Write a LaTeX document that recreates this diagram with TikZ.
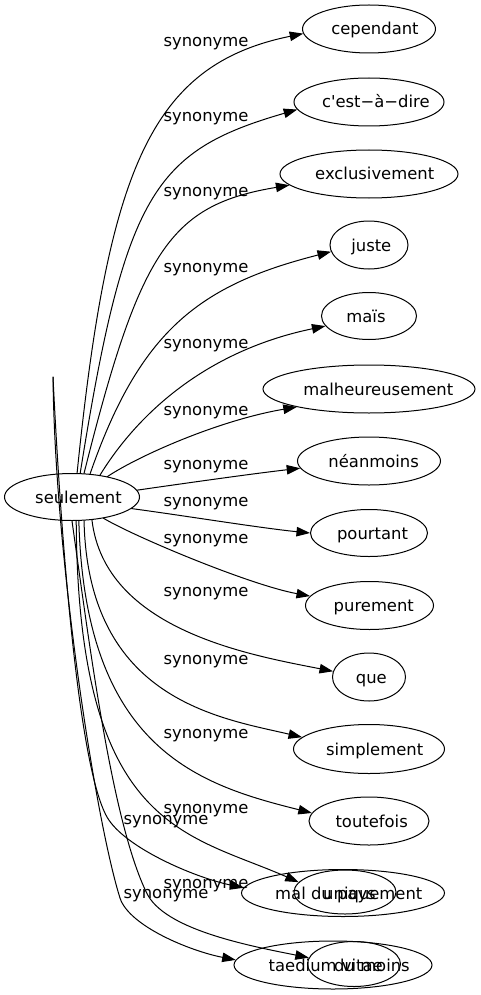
\documentclass[tikz,border=0pt]{standalone}
\usepackage{fontspec}
\setmainfont{DejaVu Sans}
\usetikzlibrary{shapes.geometric,arrows.meta}

\begin{document}
\begin{tikzpicture}
		[x=1pt,y=-1pt,line cap=round,
		%Styles
		word/.style={draw,ellipse,line width=1pt,inner sep=0pt,minimum height=48pt},
		word text/.style={font=\fontsize{16.4}{19}\selectfont,inner sep=0pt,text height=12pt,text depth=0pt},
		rel/.style={line width=1pt,-{Triangle[length=13.5pt,width=9.5pt]}},
		rel label/.style={font=\fontsize{16.4}{19}\selectfont,inner sep=0pt}
		]
		
		\useasboundingbox (0,0) rectangle (480,995);
		
		%The words
		\node[word,minimum width=135pt,minimum height=47pt] (seul) at (72,497) {};
		\node[word text] (seul-t) at (78.5,497) {seulement};
		
		\node[word,minimum width=133pt] (cep) at (369,29) {};
		\node[word text] (cep-t) at (375,29) {cependant};
		\node[word,minimum width=150pt] (cad) at (369,102) {};
		\node[word text] (cad-t) at (375.8,102) {c\textquotesingle est−à−dire};
		\node[word,minimum width=178pt] (excl) at (369,174) {};
		\node[word text] (excl-t) at (374.7,174) {exclusivement};
		\node[word,minimum width=78pt] (juste) at (369,245) {};
		\node[word text] (juste-t) at (371.3,245) {juste};
		\node[word,minimum width=95pt,minimum height=47pt] (mais) at (369,316) {};
		\node[word text] (mais-t) at (366,316) {maïs};
		\node[word,minimum width=212pt] (malh) at (369,389) {};
		\node[word text] (malh-t) at (378.3,389) {malheureusement};
		\node[word,minimum width=143pt] (nean) at (369,461) {};
		\node[word text] (nean-t) at (373.7,461) {néanmoins};
		\node[word,minimum width=117pt,minimum height=47pt] (pour) at (369,533) {};
		\node[word text] (pour-t) at (372.5,533) {pourtant};
		\node[word,minimum width=128pt] (pure) at (369.5,605.5) {};
		\node[word text] (pure-t) at (373.8,605.5) {purement};
		\node[word,minimum width=73pt] (que) at (369,677) {};
		\node[word text] (que-t) at (371.3,677) {que};
		\node[word,minimum width=151pt,minimum height=49pt] (simp) at (369,749) {};
		\node[word text] (simp-t) at (374.7,749) {simplement};
		\node[word,minimum width=120pt] (tout) at (369,821) {};
		\node[word text] (tout-t) at (371.7,821) {toutefois};
		
		\node[word,minimum width=203pt,minimum height=47pt] (uniq) at (343,893) {};
		\node[word,minimum width=102pt,minimum height=44pt] (mal) at (345,892) {};
		\node[word text] (mal-t) at (325.5,893) {mal du pays};
		\node[word text] (uniq-t) at (372.8,893) {uniquement};
		\node[word,minimum width=198pt] (taed) at (333,965) {};
		\node[word,minimum width=93pt,minimum height=45pt] (dumo) at (354,964) {};
		\node[word text] (taed-t) at (325.7,965) {taedium vitae};
		\node[word text] (dumo-t) at (372,965) {du moins};
		
		%The links
		\coordinate (src) at (53,377);
		
		\draw[rel] (seul.78) .. controls (108,170) and (150,65) .. (cep.184);
		\draw[rel] (seul.71) .. controls (125,193) and (154,151) .. (cad.186);
		\draw[rel] (seul.63) .. controls (140,250) and (170,205) .. (excl.188);
		\draw[rel] (seul.52) .. controls (140,330) and (200,285) .. (juste.190);
		\draw[rel] (seul.38) .. controls (140,410) and (210,350) .. (mais.193);
		\draw[rel] (seul.30) .. controls (140,455) and (220,420) .. (malh.194);
		\draw[rel] (seul.6) .. controls (180,484) and (250,474) .. (nean.186);
		\draw[rel] (seul.349) .. controls (180,515) and (260,528) .. (pour.180);
		\draw[rel] (seul.326) .. controls (135,537) and (250,585) .. (pure.171);
		\draw[rel] (seul.311) .. controls (105,630) and (250,655) .. (que.171);
		\draw[rel] (seul.297) .. controls (88,700) and (220,718) .. (simp.170);
		\draw[rel] (seul.286) .. controls (85,750) and (200,785) .. (tout.172);
		\draw[rel] (seul.280) .. controls (78,830) and (187,833) .. (mal.168);
		\draw[rel] (seul.270) .. controls (89,641) and (111.5,821) .. (146.7,893) .. controls (164,929) and (245,945) .. (dumo.172);
		\draw[rel] (src) .. controls (60,520) and (77,764) .. (107,817) .. controls (124,847) and (193,877) .. (uniq.177);
		\draw[rel] (src) .. controls (55,560) and (96,822) .. (120,898) .. controls (129,926) and (190,951) .. (taed.177);
		
		%The labels
		\node[rel label] (l-cep) at (206,43.5) {synonyme};
		\node[rel label] (l-cad) at (206,118.5) {synonyme};
		\node[rel label] (l-excl) at (206,193.5) {synonyme};
		\node[rel label] (l-juste) at (206,270) {synonyme};
		\node[rel label] (l-mais) at (206,346) {synonyme};
		\node[rel label] (l-malh) at (206,412.5) {synonyme};
		\node[rel label] (l-nean) at (206,466.5) {synonyme};
		\node[rel label] (l-pour) at (206,503.5) {synonyme};
		\node[rel label] (l-pure) at (206,541) {synonyme};
		\node[rel label] (l-que) at (206,594) {synonyme};
		\node[rel label] (l-simp) at (206,661.5) {synonyme};
		\node[rel label] (l-tout) at (206,736) {synonyme};
		\node[rel label] (l-mal) at (206,811) {synonyme};
		\node[rel label] (l-uniq) at (166,822) {synonyme};
		\node[rel label] (l-dumo) at (206,886) {synonyme};
		\node[rel label] (l-taed) at (166,896) {synonyme};
	\end{tikzpicture}
\end{document}
